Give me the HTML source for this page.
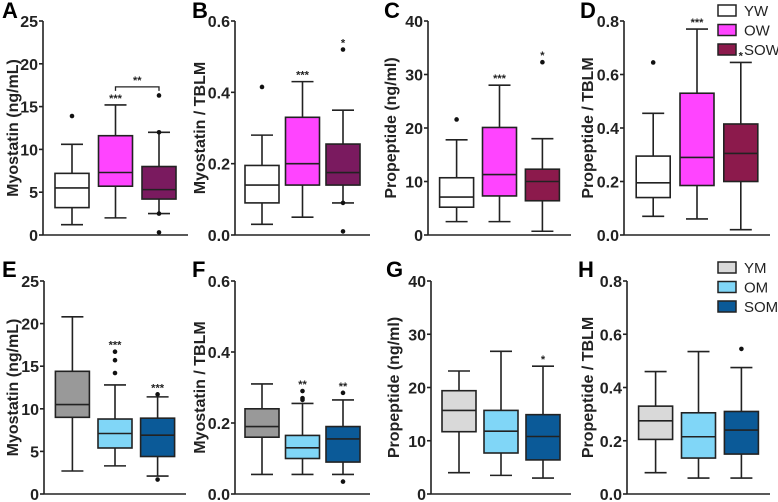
<!DOCTYPE html>
<html><head><meta charset="utf-8">
<style>
html,body{margin:0;padding:0;background:#fff;}
svg{display:block;font-family:"Liberation Sans",Arial,sans-serif;}
</style></head>
<body>
<svg id="fig" width="778" height="502" viewBox="0 0 778 502" xmlns="http://www.w3.org/2000/svg"></svg>
<script>
// ---- data arrays ----
const groupsTop = ["YW","OW","SOW"];
const groupsBottom = ["YM","OM","SOM"];
// each box: [whiskerMin, q1, median, q3, whiskerMax]
const boxesA = [[1.2,3.2,5.5,7.2,10.6],[2.0,5.7,7.3,11.6,15.2],[2.5,4.2,5.3,8.0,12.0]];
const outliersA = [[13.9],[],[16.3,12.0,2.5,0.3]];
const starsA = ["","***",""];
const boxesB = [[0.03,0.09,0.14,0.195,0.28],[0.05,0.14,0.20,0.33,0.43],[0.09,0.14,0.175,0.255,0.35]];
const outliersB = [[0.415],[],[0.52,0.09,0.01]];
const starsB = ["","***","*"];
const boxesC = [[2.5,5.2,7.1,10.7,17.8],[2.5,7.3,11.3,20.1,28.0],[0.7,6.4,10.0,12.3,18.0]];
const outliersC = [[21.6],[],[32.3]];
const starsC = ["","***","*"];
const boxesD = [[0.07,0.14,0.195,0.295,0.455],[0.06,0.185,0.29,0.53,0.77],[0.02,0.2,0.305,0.415,0.645]];
const outliersD = [[0.645],[],[]];
const starsD = ["","***","*"];
const boxesE = [[2.7,9.0,10.5,14.4,20.8],[3.3,5.4,7.1,8.8,12.8],[2.1,4.4,6.9,8.9,11.4]];
const outliersE = [[],[14.2,15.7,16.7],[11.7,1.7]];
const starsE = ["","***","***"];
const boxesF = [[0.055,0.16,0.19,0.24,0.31],[0.055,0.10,0.13,0.165,0.255],[0.055,0.09,0.155,0.19,0.265]];
const outliersF = [[],[0.265,0.27,0.29],[0.285,0.035]];
const starsF = ["","**","**"];
const boxesG = [[4.0,11.7,15.7,19.4,23.1],[3.5,7.7,11.8,15.7,26.8],[3.0,6.4,10.8,14.9,24.0]];
const outliersG = [[],[],[]];
const starsG = ["","","*"];
const boxesH = [[0.08,0.205,0.275,0.33,0.46],[0.06,0.135,0.215,0.305,0.535],[0.06,0.15,0.24,0.31,0.475]];
const outliersH = [[],[],[0.545]];
const starsH = ["","",""];
const ticks25 = [0,5,10,15,20,25];
const ticks06 = ["0.0","0.2","0.4","0.6"];
const ticks40 = [0,10,20,30,40];
const ticks08 = ["0.0","0.2","0.4","0.6","0.8"];

const NS="http://www.w3.org/2000/svg";
const svg=document.getElementById('fig');
function mk(tag,attrs,parent,text){const e=document.createElementNS(NS,tag);for(const k in attrs)e.setAttribute(k,attrs[k]);if(text!==undefined)e.textContent=text;(parent||svg).appendChild(e);return e;}

const panels=[
 {id:"A",lx:2,ax:43,w:145,row:0,ymax:25,ticks:ticks25,label:"Myostatin (ng/mL)",labx:14,boxes:boxesA,outs:outliersA,stars:starsA,colors:["#ffffff","#ff44ff","#7a1a5f"],groups:groupsTop},
 {id:"B",lx:192,ax:235,w:135,row:0,ymax:0.6,ticks:ticks06,label:"Myostatin / TBLM",labx:201,boxes:boxesB,outs:outliersB,stars:starsB,colors:["#ffffff","#ff44ff","#7a1a5f"],groups:groupsTop},
 {id:"C",lx:384,ax:428,w:143,row:0,ymax:40,ticks:ticks40,label:"Propeptide (ng/ml)",labx:392,boxes:boxesC,outs:outliersC,stars:starsC,colors:["#ffffff","#ff44ff","#8c1a4c"],groups:groupsTop},
 {id:"D",lx:580,ax:624,w:146,row:0,ymax:0.8,ticks:ticks08,label:"Propeptide / TBLM",labx:589,boxes:boxesD,outs:outliersD,stars:starsD,colors:["#ffffff","#ff44ff","#8c1a4c"],groups:groupsTop},
 {id:"E",lx:2,ax:44,w:142,row:1,ymax:25,ticks:ticks25,label:"Myostatin (ng/mL)",labx:14,boxes:boxesE,outs:outliersE,stars:starsE,colors:["#999999","#80d6f7","#0b5a98"],groups:groupsBottom},
 {id:"F",lx:192,ax:235,w:135,row:1,ymax:0.6,ticks:ticks06,label:"Myostatin / TBLM",labx:201,boxes:boxesF,outs:outliersF,stars:starsF,colors:["#999999","#80d6f7","#0b5a98"],groups:groupsBottom},
 {id:"G",lx:386,ax:431,w:140,row:1,ymax:40,ticks:ticks40,label:"Propeptide (ng/ml)",labx:395,boxes:boxesG,outs:outliersG,stars:starsG,colors:["#d9d9d9","#80d6f7","#0b5a98"],groups:groupsBottom},
 {id:"H",lx:578,ax:627,w:143,row:1,ymax:0.8,ticks:ticks08,label:"Propeptide / TBLM",labx:589,boxes:boxesH,outs:outliersH,stars:starsH,colors:["#d9d9d9","#80d6f7","#0b5a98"],groups:groupsBottom}
];
const rows=[{top:21,bot:235,ly:18},{top:281,bot:494,ly:277}];
const rel=[0.2,0.5,0.8];

panels.forEach(p=>{
 const r=rows[p.row];
 const y=v=>r.bot-(v/p.ymax)*(r.bot-r.top);
 const xc=i=>p.ax+rel[i]*p.w;
 const bw=34;
 const g=mk('g',{});
 
 
 const pl=mk('text',{x:p.lx,y:r.ly,'font-size':22,'font-weight':'bold'},g,p.id);
 
 
 const ya=mk('line',{x1:p.ax,y1:r.top,x2:p.ax,y2:r.bot,stroke:'#222','stroke-width':1.6},g);
 
 
 const xa=mk('line',{x1:p.ax,y1:r.bot,x2:p.ax+p.w,y2:r.bot,stroke:'#222','stroke-width':1.6},g);
 
 
 p.ticks.forEach(t=>{
  const v=parseFloat(t);
  const yy=y(v);
  mk('line',{x1:p.ax-4,y1:yy,x2:p.ax,y2:yy,stroke:'#222','stroke-width':1.6},g);
  const tl=mk('text',{x:p.ax-5,y:yy+6,'font-size':16,'font-weight':'bold','text-anchor':'end',fill:'#222'},g,String(t));
  
  
 });
 const cy=(r.top+r.bot)/2;
 const yl=mk('text',{x:p.labx,y:cy,'font-size':16,'font-weight':'bold','text-anchor':'middle',fill:'#222',transform:`rotate(-90 ${p.labx} ${cy})`,'dominant-baseline':'middle'},g,p.label);
 
 
 p.boxes.forEach((b,i)=>{
  const x=xc(i);
  const bg=mk('g',{},g);
  
  
  mk('line',{x1:x,y1:y(b[0]),x2:x,y2:y(b[4]),stroke:'#222','stroke-width':1.6},bg);
  mk('line',{x1:x-11,y1:y(b[0]),x2:x+11,y2:y(b[0]),stroke:'#222','stroke-width':1.6},bg);
  mk('line',{x1:x-11,y1:y(b[4]),x2:x+11,y2:y(b[4]),stroke:'#222','stroke-width':1.6},bg);
  mk('rect',{x:x-bw/2,y:y(b[3]),width:bw,height:y(b[1])-y(b[3]),fill:p.colors[i],stroke:'#222','stroke-width':1.6},bg);
  mk('line',{x1:x-bw/2,y1:y(b[2]),x2:x+bw/2,y2:y(b[2]),stroke:'#222','stroke-width':1.6},bg);
  p.outs[i].forEach(o=>{
   const d=mk('circle',{cx:x,cy:y(o),r:2.3,fill:'#111'},bg);
   
   
  });
  if(p.stars[i]){
   const top=Math.max(b[4],...p.outs[i]);
   const s=mk('text',{x:x,y:y(top)-3,'font-size':11,'font-weight':'bold','text-anchor':'middle',fill:'#222'},bg,p.stars[i]);
   
   
  }
 });
 if(p.id==="A"){
  const yb=y(17.3);
  const br=mk('path',{d:`M${xc(1)} ${yb+4} V${yb} H${xc(2)} V${yb+4}`,fill:'none',stroke:'#222','stroke-width':1.3},g);
  
  
  const bs=mk('text',{x:(xc(1)+xc(2))/2,y:yb-3,'font-size':11,'font-weight':'bold','text-anchor':'middle',fill:'#222'},g,'**');
  
  
 }
});

// legends
const legends=[
 {y0:5,groups:groupsTop,colors:["#ffffff","#ff44ff","#8c1a4c"]},
 {y0:262,groups:groupsBottom,colors:["#d9d9d9","#80d6f7","#0b5a98"]}
];
legends.forEach((L,li)=>{
 const lg=mk('g',{});
 
 
 L.groups.forEach((n,i)=>{
  const yy=L.y0+i*19.5;
  const e=mk('g',{},lg);
  
  
  mk('rect',{x:718,y:yy,width:18,height:11,fill:L.colors[i],stroke:'#222','stroke-width':1.5},e);
  mk('text',{x:744,y:yy+11,'font-size':15,fill:'#222'},e,n);
 });
});
</script>
</body></html>
